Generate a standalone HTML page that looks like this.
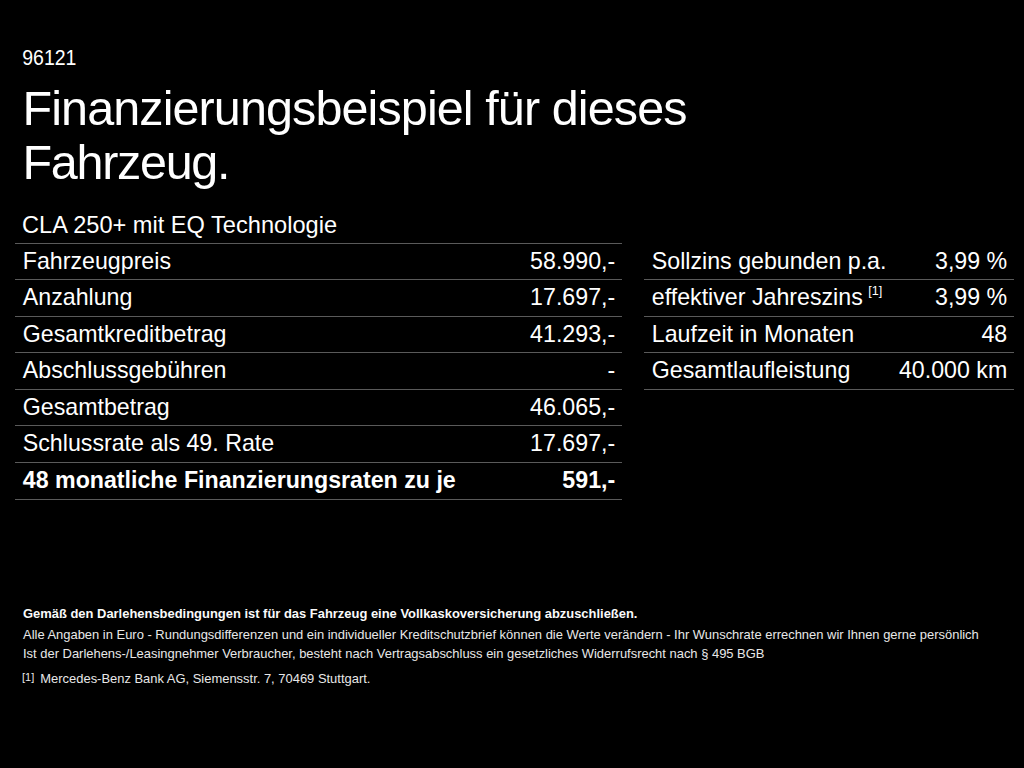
<!DOCTYPE html>
<html lang="de">
<head>
<meta charset="utf-8">
<title>Finanzierungsbeispiel</title>
<style>
html,body{margin:0;padding:0;background:#000;}
body{width:1024px;height:768px;overflow:hidden;position:relative;color:#fff;font-family:"Liberation Sans",sans-serif;}
.a{position:absolute;white-space:nowrap;line-height:1;}
#id{left:22.2px;top:46.6px;font-size:19.5px;transform:scaleY(1.12);transform-origin:0 0;}
#t1{left:22.5px;top:84px;font-size:48.5px;letter-spacing:-0.9px;}
#t2{left:22.5px;top:138px;font-size:48.5px;letter-spacing:-1.3px;}
#sub{left:22px;top:213.5px;font-size:23.6px;}
.tbl{position:absolute;}
.row{position:relative;height:36.6px;box-sizing:border-box;border-bottom:1px solid #5a5a5a;font-size:23.2px;}
.row span{position:absolute;top:6px;line-height:1;white-space:nowrap;}
.row .l{left:7.8px;}
.row .r{right:6.8px;}
#lt{left:15px;top:242.5px;width:607px;border-top:1px solid #5a5a5a;}
#rt{left:644px;top:243.5px;width:370px;}
.b{font-weight:bold;}
.f{position:absolute;left:23px;font-size:12.95px;line-height:1;white-space:nowrap;color:#e8e8e8;}
.f.b{color:#fafafa;}
.row .sp{position:relative;font-size:12.6px;top:-9.7px;margin-left:5.5px;}
.fn{position:absolute;font-size:11px;line-height:1;}
</style>
</head>
<body>
<div class="a" id="id">96121</div>
<div class="a" id="t1">Finanzierungsbeispiel für dieses</div>
<div class="a" id="t2">Fahrzeug.</div>
<div class="a" id="sub">CLA 250+ mit EQ Technologie</div>

<div class="tbl" id="lt">
<div class="row"><span class="l">Fahrzeugpreis</span><span class="r">58.990,-</span></div>
<div class="row"><span class="l">Anzahlung</span><span class="r">17.697,-</span></div>
<div class="row"><span class="l">Gesamtkreditbetrag</span><span class="r">41.293,-</span></div>
<div class="row"><span class="l">Abschlussgebühren</span><span class="r">-</span></div>
<div class="row"><span class="l">Gesamtbetrag</span><span class="r">46.065,-</span></div>
<div class="row"><span class="l">Schlussrate als 49. Rate</span><span class="r">17.697,-</span></div>
<div class="row b"><span class="l">48 monatliche Finanzierungsraten zu je</span><span class="r">591,-</span></div>
</div>

<div class="tbl" id="rt">
<div class="row"><span class="l">Sollzins gebunden p.a.</span><span class="r">3,99 %</span></div>
<div class="row"><span class="l">effektiver Jahreszins<span class="sp">[1]</span></span><span class="r">3,99 %</span></div>
<div class="row"><span class="l">Laufzeit in Monaten</span><span class="r">48</span></div>
<div class="row"><span class="l">Gesamtlaufleistung</span><span class="r">40.000 km</span></div>
</div>

<div class="f b" style="top:608px;">Gemäß den Darlehensbedingungen ist für das Fahrzeug eine Vollkaskoversicherung abzuschließen.</div>
<div class="f" style="top:629px;">Alle Angaben in Euro - Rundungsdifferenzen und ein individueller Kreditschutzbrief können die Werte verändern - Ihr Wunschrate errechnen wir Ihnen gerne persönlich</div>
<div class="f" style="top:648px;">Ist der Darlehens-/Leasingnehmer Verbraucher, besteht nach Vertragsabschluss ein gesetzliches Widerrufsrecht nach § 495 BGB</div>
<div class="f" style="top:671.5px;left:22px;font-size:11px;">[1]</div>
<div class="f" style="top:673px;left:40.3px;">Mercedes-Benz Bank AG, Siemensstr. 7, 70469 Stuttgart.</div>
</body>
</html>
